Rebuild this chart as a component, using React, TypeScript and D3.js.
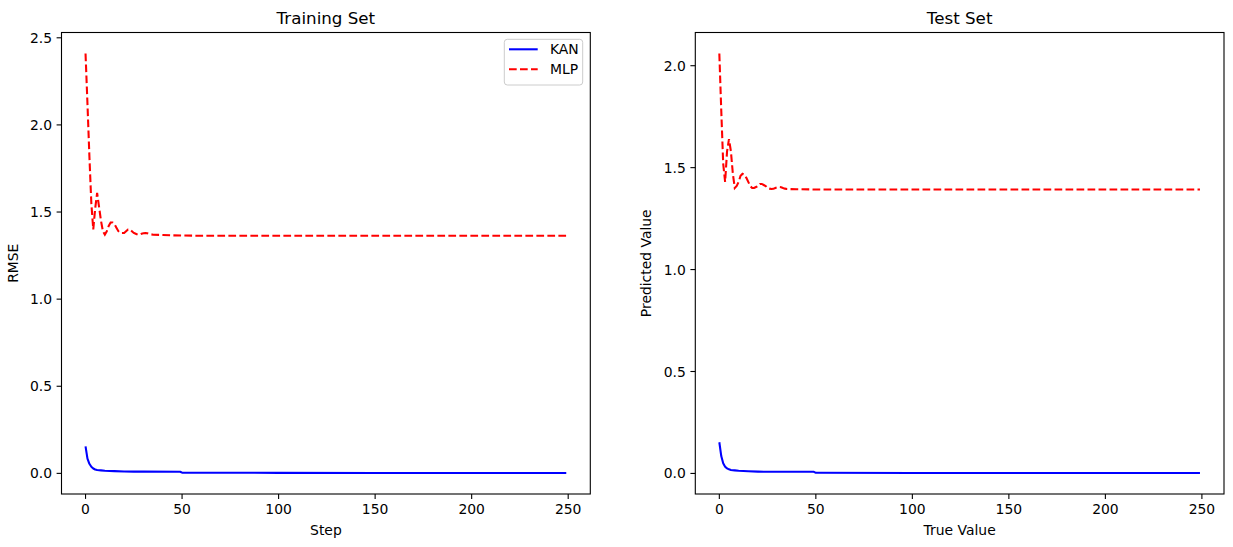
import React from "react";
import * as d3 from "d3";

// ---------- data ----------
const trainSteps = [0,1,2,3,4,5,6,7,8,9,10,11,12,13,14,15,16,17,18,19,20,21,22,23,24,25,26,27,28,29,30,31,32,33,34,35,40,45,50,60,100,150,200,249];
const trainMLP = [2.41,2.12,1.82,1.55,1.40,1.52,1.61,1.53,1.45,1.39,1.37,1.39,1.42,1.44,1.44,1.43,1.41,1.39,1.38,1.38,1.38,1.39,1.40,1.40,1.39,1.38,1.375,1.37,1.37,1.375,1.378,1.38,1.378,1.375,1.372,1.37,1.368,1.366,1.365,1.364,1.364,1.364,1.364,1.364];
const trainKANSteps = [0,1,2,3,4,5,6,8,10,15,20,25,30,49,50,100,150,200,249];
const trainKAN = [0.155,0.085,0.055,0.038,0.028,0.022,0.019,0.017,0.015,0.013,0.011,0.010,0.010,0.0095,0.004,0.003,0.0025,0.002,0.002];

const testSteps = [0,1,2,3,4,5,6,7,8,9,10,11,12,13,14,15,16,17,18,19,20,21,22,23,24,25,26,27,28,29,30,31,32,33,34,35,40,50,60,100,150,200,249];
const testMLP = [2.06,1.78,1.52,1.43,1.58,1.64,1.58,1.47,1.40,1.41,1.43,1.46,1.47,1.465,1.45,1.43,1.41,1.40,1.40,1.405,1.41,1.42,1.42,1.415,1.41,1.40,1.397,1.395,1.396,1.40,1.403,1.405,1.404,1.40,1.397,1.395,1.394,1.393,1.393,1.393,1.393,1.393,1.393];
const testKANSteps = [0,1,2,3,4,5,6,8,10,15,20,25,49,50,100,150,200,249];
const testKAN = [0.153,0.085,0.05,0.033,0.025,0.02,0.017,0.015,0.013,0.011,0.009,0.008,0.008,0.003,0.0025,0.002,0.002,0.002];

const xTicks = [0, 50, 100, 150, 200, 250];
const yTicksTrain = [0, 0.5, 1.0, 1.5, 2.0, 2.5];
const yTicksTest = [0, 0.5, 1.0, 1.5, 2.0];

const FONT = "'DejaVu Sans', sans-serif";
const W = 1233, H = 547;
const TOP = 32.5, BOTTOM = 494;

type PanelProps = {
  x0: number; x1: number;
  kanX: number[]; kanY: number[];
  mlpX: number[]; mlpY: number[];
  yTicks: number[];
  title: string; xlabel: string; ylabel: string;
  legend: boolean;
};

function Panel(p: PanelProps) {
  const allY = [...p.kanY, ...p.mlpY];
  const ymin = d3.min(allY)!, ymax = d3.max(allY)!;
  const ys = ymax - ymin;
  const x = d3.scaleLinear().domain([0 - 249 * 0.05, 249 * 1.05]).range([p.x0, p.x1]);
  const y = d3.scaleLinear().domain([ymin - 0.05 * ys, ymax + 0.05 * ys]).range([BOTTOM, TOP]);
  const line = d3.line<[number, number]>().x(d => x(d[0])).y(d => y(d[1]));
  const kan = line(p.kanX.map((v, i) => [v, p.kanY[i]]))!;
  const mlp = line(p.mlpX.map((v, i) => [v, p.mlpY[i]]))!;
  const cx = (p.x0 + p.x1) / 2;
  const cy = (TOP + BOTTOM) / 2;
  return (
    <g>
      <path d={kan} fill="none" stroke="#0000ff" strokeWidth={2.08} strokeLinejoin="round" />
      <path d={mlp} fill="none" stroke="#ff0000" strokeWidth={2.08} strokeDasharray="7.7,3.3" />
      <rect x={p.x0} y={TOP} width={p.x1 - p.x0} height={BOTTOM - TOP} fill="none" stroke="#000" strokeWidth={1.1} />
      {xTicks.map(t => (
        <g key={"x" + t}>
          <line x1={x(t)} x2={x(t)} y1={BOTTOM} y2={BOTTOM + 4.9} stroke="#000" strokeWidth={1.1} />
          <text x={x(t)} y={BOTTOM + 20} textAnchor="middle" fontSize={13.9} fontFamily={FONT}>{t}</text>
        </g>
      ))}
      {p.yTicks.map(t => (
        <g key={"y" + t}>
          <line x1={p.x0 - 4.9} x2={p.x0} y1={y(t)} y2={y(t)} stroke="#000" strokeWidth={1.1} />
          <text x={p.x0 - 9.5} y={y(t) + 5} textAnchor="end" fontSize={13.9} fontFamily={FONT}>{t.toFixed(1)}</text>
        </g>
      ))}
      <text x={cx} y={TOP - 8.5} textAnchor="middle" fontSize={16.7} fontFamily={FONT}>{p.title}</text>
      <text x={cx} y={535} textAnchor="middle" fontSize={13.9} fontFamily={FONT}>{p.xlabel}</text>
      <text transform={`translate(${p.x0 - 44},${cy}) rotate(-90)`} textAnchor="middle" fontSize={13.9} fontFamily={FONT}>{p.ylabel}</text>
      {p.legend && (
        <g>
          <rect x={504.3} y={39.3} width={78.4} height={45.7} rx={3} fill="#fff" fillOpacity={0.8} stroke="#cccccc" strokeWidth={1} />
          <line x1={509} x2={537.7} y1={49.3} y2={49.3} stroke="#0000ff" strokeWidth={2.08} />
          <text x={550} y={54.3} fontSize={13.9} fontFamily={FONT}>KAN</text>
          <line x1={509} x2={537.7} y1={69.3} y2={69.3} stroke="#ff0000" strokeWidth={2.08} strokeDasharray="7.7,3.3" />
          <text x={550} y={74.3} fontSize={13.9} fontFamily={FONT}>MLP</text>
        </g>
      )}
    </g>
  );
}

export default function App() {
  return (
    <svg width={W} height={H} style={{ position: "absolute", left: 0, top: 0, background: "#fff" }}>
      <rect width={W} height={H} fill="#fff" />
      <Panel x0={61.5} x1={590.3} kanX={trainKANSteps} kanY={trainKAN} mlpX={trainSteps} mlpY={trainMLP}
        yTicks={yTicksTrain} title="Training Set" xlabel="Step" ylabel="RMSE" legend={true} />
      <Panel x0={695.3} x1={1224} kanX={testKANSteps} kanY={testKAN} mlpX={testSteps} mlpY={testMLP}
        yTicks={yTicksTest} title="Test Set" xlabel="True Value" ylabel="Predicted Value" legend={false} />
    </svg>
  );
}
